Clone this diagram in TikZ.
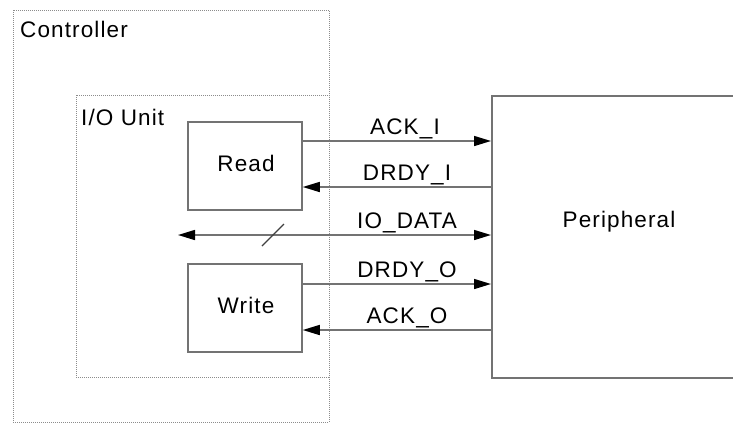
\documentclass[tikz,border=0pt]{standalone}
\usepackage{fontspec}
\setmainfont{Liberation Sans}[LetterSpace=5]
\usetikzlibrary{arrows.meta}

\tikzset{
  frame/.style={draw=gray!90, densely dotted, line width=1pt},
  block/.style={draw=gray!110, line width=1.5pt, minimum width=114pt, minimum height=88pt, inner sep=0pt},
  sig/.style={draw=gray!110, line width=1.5pt, -{Triangle[length=17pt,width=10pt,black]}},
  siglabel/.style={anchor=base, inner sep=0pt}
}

\begin{document}
\begin{tikzpicture}[x=1pt,y=-1pt,font=\fontsize{22.5}{26}\selectfont]
      \useasboundingbox (0,0) rectangle (733,424);
      % outer and inner frames
      \draw[frame] (13,10) rectangle (329,422);
      \draw[frame] (76,95) rectangle (329,377);
      \node[anchor=base west, inner sep=0pt] (ctrl) at (20,37) {Controller};
      \node[anchor=base west, inner sep=0pt] (iou) at (81,125) {I/O Unit};
      % blocks
      \node[block] (read) at (245,166) {};
      \node[block] (write) at (245,308) {};
      \node[siglabel] (lread) at (246,171) {Read};
      \node[siglabel] (lwrite) at (246,313) {Write};
      \node[draw=gray!110, line width=1.5pt, anchor=north west, minimum width=300pt, minimum height=282pt] (periph) at (491,95) {};
      \node[siglabel] (plabel) at (619,227) {Peripheral};
      % points on the peripheral side
      \coordinate (ackI) at (491,141);
      \coordinate (drdyI) at (491,187);
      \coordinate (iodata) at (491,235);
      \coordinate (drdyO) at (491,284);
      \coordinate (ackO) at (491,330);
      \coordinate (busend) at (178,235);
      % signals
      \draw[sig] (read.east |- ackI) -- (ackI);
      \draw[sig] (drdyI) -- (read.east |- drdyI);
      \draw[sig, {Triangle[length=17pt,width=10pt,black]}-{Triangle[length=17pt,width=10pt,black]}] (busend) -- (iodata);
      \draw[sig] (write.east |- drdyO) -- (drdyO);
      \draw[sig] (ackO) -- (write.east |- ackO);
      \draw[draw=black!75, line width=1.3pt] (262,246) -- (284,224);
      % labels
      \node[siglabel] (lackI) at (405,134) {ACK\_I};
      \node[siglabel] (ldrdyI) at (407,180) {DRDY\_I};
      \node[siglabel] (liodata) at (407,228) {IO\_DATA};
      \node[siglabel] (ldrdyO) at (407,277) {DRDY\_O};
      \node[siglabel] (lackO) at (407,323) {ACK\_O};
    \end{tikzpicture}
\end{document}
